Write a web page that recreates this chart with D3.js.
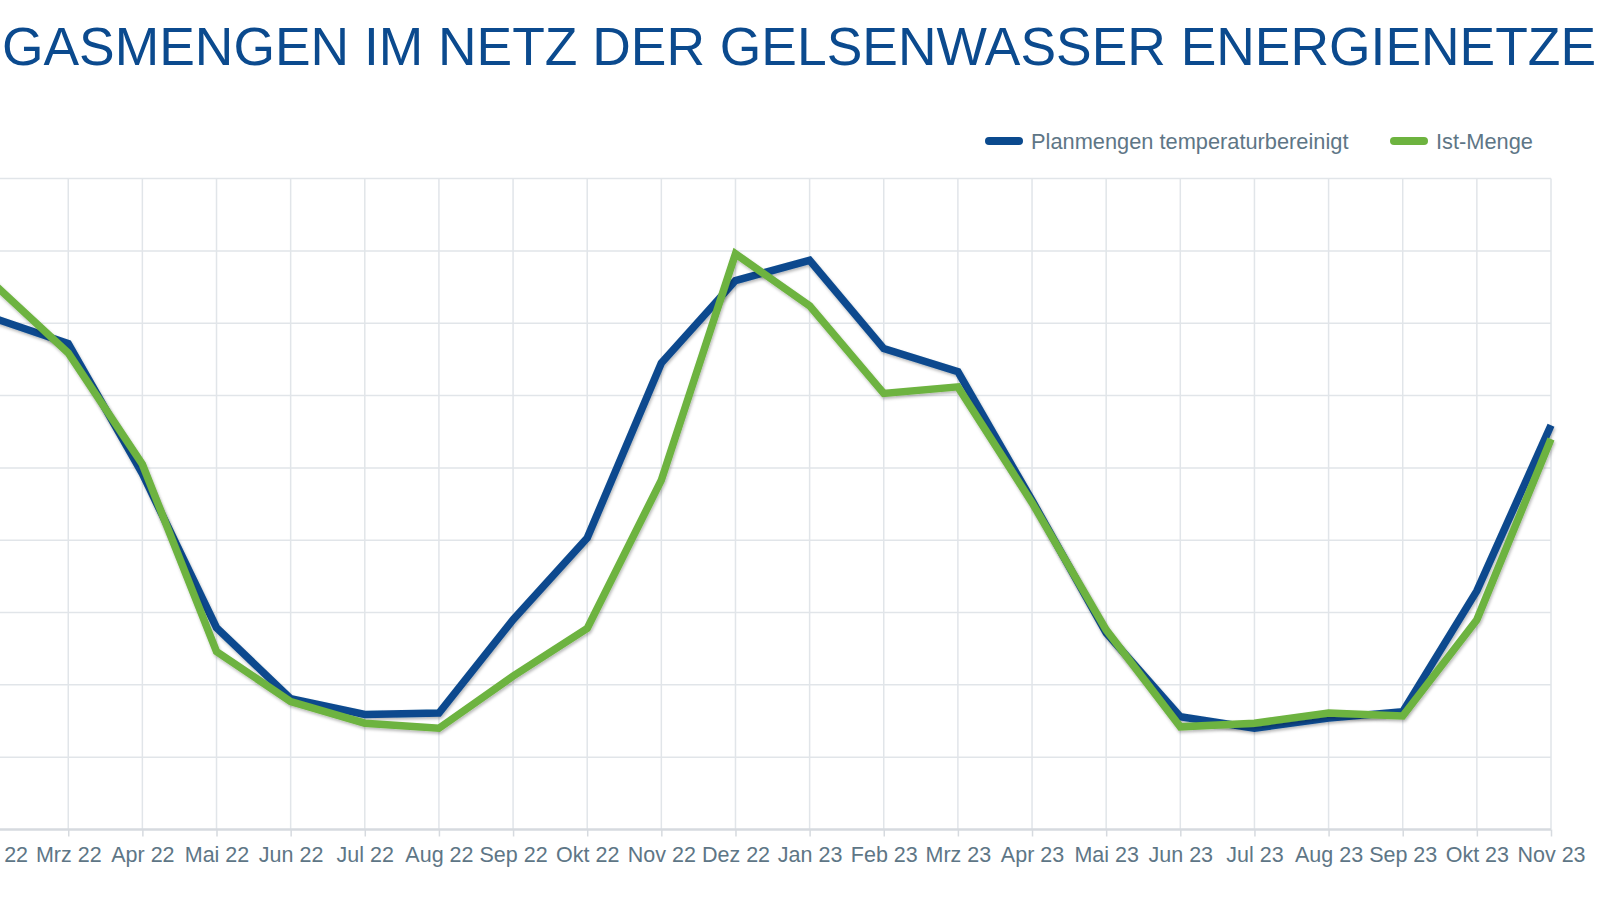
<!DOCTYPE html>
<html>
<head>
<meta charset="utf-8">
<script src="https://cdn.jsdelivr.net/npm/d3@7"></script>
<style>
  html, body { margin: 0; padding: 0; background: #ffffff; overflow: hidden; }
  svg { display: block; }
  text { font-family: "Liberation Sans", Arial, sans-serif; }
</style>
</head>
<body>
<svg id="chart" width="1600" height="904"></svg>
<script>
const categories = ["Feb 22","Mrz 22","Apr 22","Mai 22","Jun 22","Jul 22","Aug 22","Sep 22","Okt 22","Nov 22","Dez 22",
                    "Jan 23","Feb 23","Mrz 23","Apr 23","Mai 23","Jun 23","Jul 23","Aug 23","Sep 23","Okt 23","Nov 23"];
const planmengen = [707, 672, 492, 279, 181, 159, 161, 290, 403, 645, 759, 787, 665, 633, 455, 272, 156, 140, 154, 163, 330, 559];
const istMenge   = [754, 659, 505, 246, 177, 147, 140, 212, 278, 483, 796, 724, 603, 612, 452, 276, 142, 147, 161, 157, 290, 540];
const yTicks = [0, 100, 200, 300, 400, 500, 600, 700, 800, 900];
const seriesNames = ["Planmengen temperaturbereinigt", "Ist-Menge"];
const titleText = "GASMENGEN IM NETZ DER GELSENWASSER ENERGIENETZE";

const colors = { plan: "#0b4a8e", ist: "#6db33f", grid: "#e1e5e9", axis: "#d6dadf", label: "#5e7686", title: "#0b4a8e" };

const svg = d3.select("#chart");
const x = d3.scalePoint().domain(categories).range([-5.9, 1551]);
const y = d3.scaleLinear().domain([0, 900]).range([829.5, 178.6]);

// drop shadow filter
const defs = svg.append("defs");
const f = defs.append("filter").attr("id", "shadow").attr("x", "-5%").attr("y", "-5%").attr("width", "110%").attr("height", "120%");
f.append("feDropShadow").attr("dx", 1).attr("dy", 2).attr("stdDeviation", 1.6).attr("flood-color", "#000").attr("flood-opacity", 0.28);

// Title
svg.append("text").attr("x", 799).attr("y", 65).attr("text-anchor", "middle")
  .attr("font-size", 53.4).attr("fill", colors.title).text(titleText);

// Horizontal grid
svg.append("g").selectAll("line").data(yTicks.slice(1)).join("line")
  .attr("x1", -20).attr("x2", x(categories[categories.length - 1]))
  .attr("y1", d => y(d)).attr("y2", d => y(d))
  .attr("stroke", colors.grid).attr("stroke-width", 1.5);

// Vertical grid
svg.append("g").selectAll("line").data(categories).join("line")
  .attr("x1", d => x(d)).attr("x2", d => x(d))
  .attr("y1", y(900)).attr("y2", y(0))
  .attr("stroke", colors.grid).attr("stroke-width", 1.5);

// X axis
const xAxis = d3.axisBottom(x).tickSize(7).tickPadding(10);
const gx = svg.append("g").attr("transform", `translate(0,${y(0)})`).call(xAxis);
gx.select(".domain").attr("stroke", colors.axis).attr("stroke-width", 2.5).attr("d", `M-20,0H${x(categories[categories.length - 1])}`);
gx.selectAll(".tick line").attr("stroke", colors.axis).attr("stroke-width", 1.5);
gx.selectAll(".tick text").attr("font-size", 21.5).attr("fill", colors.label)
  .attr("font-family", "'Liberation Sans', Arial, sans-serif");

// Lines
const line = d3.line().x((d, i) => x(categories[i])).y(d => y(d)).curve(d3.curveLinear);
svg.append("path").datum(planmengen).attr("d", line)
  .attr("fill", "none").attr("stroke", colors.plan).attr("stroke-width", 7.5)
  .attr("stroke-linejoin", "miter").attr("filter", "url(#shadow)");
svg.append("path").datum(istMenge).attr("d", line)
  .attr("fill", "none").attr("stroke", colors.ist).attr("stroke-width", 7.5)
  .attr("stroke-linejoin", "miter").attr("filter", "url(#shadow)");

// Legend
const legendItems = [
  { name: seriesNames[0], color: colors.plan, x: 989 },
  { name: seriesNames[1], color: colors.ist, x: 1394 }
];
const lg = svg.append("g");
legendItems.forEach(it => {
  lg.append("line").attr("x1", it.x).attr("x2", it.x + 30).attr("y1", 141).attr("y2", 141)
    .attr("stroke", it.color).attr("stroke-width", 8).attr("stroke-linecap", "round");
  lg.append("text").attr("x", it.x + 42).attr("y", 148.5).attr("font-size", 21.8)
    .attr("fill", colors.label).text(it.name);
});
</script>
</body>
</html>
